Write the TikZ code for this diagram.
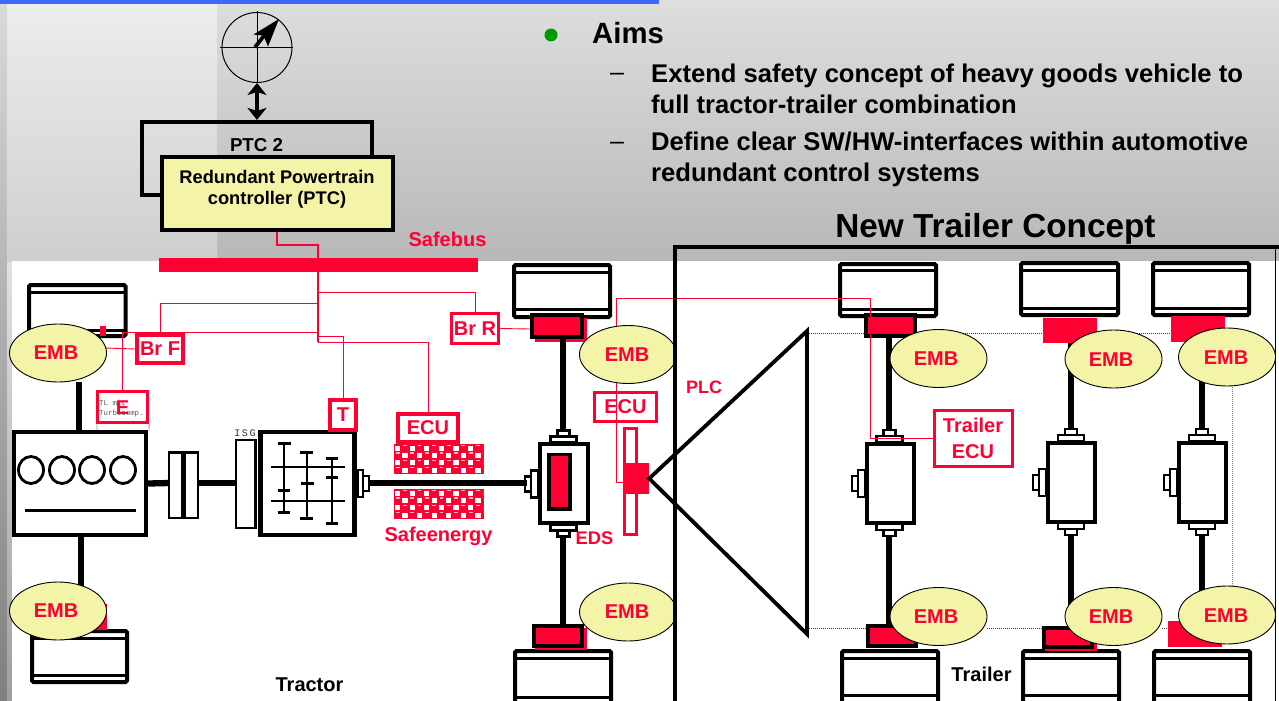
\documentclass[tikz,border=0pt]{standalone}
\usepackage{fontspec}
\setmainfont{Liberation Sans}
\newfontfamily\monof{Liberation Mono}
\usetikzlibrary{arrows.meta,shapes.geometric}
\definecolor{sred}{HTML}{FF0033}
\definecolor{syel}{HTML}{F3F4A8}
\definecolor{blubar}{HTML}{3D69FB}
\newcommand{\fs}[1]{\fontsize{#1}{#1}\selectfont}
\tikzset{
 wheelout/.style={draw=black,line width=4pt,fill=white,rounded corners=1.5pt},
 wheelline/.style={draw=black,line width=3pt},
 pad/.style={draw=black,line width=3.8pt,fill=sred},
 padred/.style={fill=sred},
 axle/.style={draw=black,line width=6.3pt},
 box/.style={draw=black,line width=4pt,fill=white},
 stub/.style={draw=black,line width=2.1pt,fill=white},
 wire/.style={draw=sred,line width=0.9pt},
 redbox/.style={draw=sred,line width=4pt,fill=white,inner sep=0pt,font=\bfseries\fs{20},text=sred,align=center},
 emb/.style={ellipse,draw=black,line width=0.9pt,fill=syel,inner sep=0pt,minimum width=97pt,minimum height=58pt},
 redlab/.style={font=\bfseries\fs{20},text=sred,inner sep=0pt},
 blk/.style={font=\bfseries,text=black,inner sep=0pt,align=center},
 dots/.style={draw=black!80,line width=0.7pt,dash pattern=on 1pt off 1pt},
 gear/.style={draw=black,line width=2.5pt},
 gearcap/.style={draw=black,line width=3pt},
}
\newcommand{\wheelbox}[6]{%x1 y1 x2 y2 line1 line2
 \draw[wheelout] (#1,#2) rectangle (#3,#4);
 \draw[wheelline] (#1,#5) -- (#3,#5);
 \draw[wheelline] (#1,#6) -- (#3,#6);}
\newcommand{\diffbox}[4]{%cx, xleft, xright, ytop (outer)
 \pgfmathsetmacro{\yb}{#4+82}
 \draw[stub] (#1-6,#4-12) rectangle (#1+6,#4-6);
 \draw[stub] (#1-13,#4-6) rectangle (#1+13,#4);
 \draw[stub] (#1-6,\yb+6) rectangle (#1+6,\yb+12);
 \draw[stub] (#1-13,\yb) rectangle (#1+13,\yb+6);
 \draw[stub] (#2-7,#4+28) rectangle (#2,#4+55);
 \draw[stub] (#2-13,#4+34) rectangle (#2-7,#4+49);
 \draw[box] (#2+1.5,#4+1.5) rectangle (#3-1.5,\yb-1.5);}
\newcommand{\safepatch}[2]{%x y top-left
 \fill[sred] (#1,#2) rectangle ++(90,30);
 \begin{scope}
 \clip (#1+1,#2+1) rectangle ++(88,28);
 \foreach \i in {0,...,12}{\foreach \j in {0,...,3}{
  \pgfmathtruncatemacro{\pr}{mod(\i+\j,2)}
  \ifnum\pr=0
   \fill[white] (#1+\i*7.3+1,#2+\j*7.4+1.5) rectangle ++(5.2,5);
  \else
   \fill[white!70!sred] (#1+\i*7.3+1.7,#2+\j*7.4+0.8) rectangle ++(3.8,1.4);
  \fi
 }}
 \end{scope}}
\begin{document}
\begin{tikzpicture}[x=1pt,y=-1pt,line join=miter]
\useasboundingbox (0,0) rectangle (1279,701);
\clip (0,0) rectangle (1279,701);
% backgrounds
\shade[top color=black!15,bottom color=black!50] (0,0) rectangle (7,701);
\shade[top color=black!12,bottom color=black!38] (7,261) rectangle (12,701);
\shade[top color=black!7,bottom color=black!19] (7,0) rectangle (217,261);
\shade[top color=black!13,bottom color=black!28] (217,0) rectangle (1279,261);
\fill[white] (12,261) rectangle (1279,701);
\fill[blubar] (0,0) rectangle (659,4);
% bullet text
\fill[green!60!black] (551,35) circle (6.5);
\node[blk,anchor=base west,font=\bfseries\fs{29.3}] (aims) at (592,44) {Aims};
\node[anchor=base west,font=\fs{25},inner sep=0pt] (d1) at (610,81) {–};
\node[anchor=base west,font=\fs{25},inner sep=0pt] (d2) at (610,149) {–};
\node[blk,anchor=base west,font=\bfseries\fs{25.6}] (t1a) at (651,82) {Extend safety concept of heavy goods vehicle to};
\node[blk,anchor=base west,font=\bfseries\fs{25.6}] (t1b) at (651,113) {full tractor-trailer combination};
\node[blk,anchor=base west,font=\bfseries\fs{25.6}] (t2a) at (651,150) {Define clear SW/HW-interfaces within automotive};
\node[blk,anchor=base west,font=\bfseries\fs{25.6}] (t2b) at (651,181) {redundant control systems};
\node[blk,anchor=base,font=\bfseries\fs{33.3}] (ntc) at (995.5,237) {New Trailer Concept};
% clock
\node[circle,draw=black,line width=1pt,minimum size=70pt,inner sep=0pt] (clk) at (257,47.5) {};
\draw[black,line width=1pt] (257,11) -- (257,82);
\draw[black,line width=1pt] (220,48) -- (293,48);
\fill[black] (279,19) -- (253.5,34.5) -- (262,35.5) -- (253.5,46) -- (256.5,48.5) -- (264.5,38) -- (268,46.5) -- cycle;
% PTC
\node[draw=black,line width=4.2pt,minimum width=230pt,minimum height=73pt,inner sep=0pt] (ptcb) at (257,158.5) {};
\node[blk,anchor=base,font=\bfseries\fs{18.7}] (ptc2) at (256.5,151) {PTC 2};
\node[draw=black,line width=4.4pt,fill=syel,minimum width=231pt,minimum height=73pt,inner sep=0pt] (ptc) at (277.5,193.5) {};
\node[blk,font=\bfseries\fs{18.3}] (ptct) at (277,189.5) {Redundant Powertrain\\[3pt]controller (PTC)};
\draw[line width=3.6pt,{Stealth[length=12pt,width=19pt,inset=3pt]}-{Stealth[length=12pt,width=19pt,inset=3pt]}] (clk.south) -- (ptcb.north);
% bus
\coordinate (ptcs) at (277,232);
\node[fill=sred,minimum width=319pt,minimum height=14pt,inner sep=0pt] (bus) at (318.5,265) {};
\coordinate (b1) at (318,245);
\draw[draw=sred,line width=2.4pt] (ptcs) |- (b1) -- (bus.north -| b1);
\node[redlab,anchor=base] (safebus) at (447.5,246) {Safebus};
% tractor wheels
\wheelbox{29}{285}{125.5}{336}{292}{330}
\wheelbox{32}{631}{127}{682}{638}{675}
\wheelbox{514}{265}{610}{317}{272}{309}
\wheelbox{515}{651}{611}{720}{658}{697}
% trailer wheels
\wheelbox{840}{264}{936}{316}{270}{309}
\wheelbox{1021}{263}{1118}{315}{270}{308}
\wheelbox{1153}{263}{1249}{315}{270}{308}
\wheelbox{842}{651}{938}{720}{658}{695}
\wheelbox{1023}{651}{1119}{720}{658}{695}
\wheelbox{1154}{651}{1250}{720}{658}{695}
% pads
\fill[sred] (100,326) rectangle (106,336);
\fill[sred] (95,604) rectangle (107,630);
\fill[sred] (535,318) rectangle (587,342);
\draw[pad] (532,315) rectangle (582,337);
\fill[sred] (535,628) rectangle (587,650);
\draw[pad] (534,626) rectangle (582,646);
\draw[pad] (866,315) rectangle (915,336);
\fill[padred] (1043,318) rectangle (1097,343);
\fill[padred] (1171,316) rectangle (1225,342);
\draw[pad] (868,626) rectangle (916,646);
\fill[sred] (1045,630) rectangle (1097,651);
\draw[pad] (1044,628) rectangle (1092,647);
\fill[padred] (1168,621) rectangle (1222,647);
% dotted frame
\coordinate (dtl) at (807,333);
\coordinate (dtr) at (1232,333);
\coordinate (dbr) at (1232,628);
\coordinate (dbl) at (807,628);
\draw[dots] (dtl) -- (1042,333);
\draw[dots] (dbl) -- (866,628);
\draw[dots] (1097,333) -- (1171,333);
\draw[dots] (987,628) -- (1042,628);
\draw[dots] (1162,628) -- (1168,628);
\draw[draw=black!50,line width=0.8pt,dash pattern=on 1pt off 1pt] (dtr) -- (dbr);
% axles
\draw[axle] (563,339) -- (563,432);
\draw[axle] (563,536) -- (563,624);
\draw[axle] (889,338) -- (889,432);
\draw[axle] (889,536) -- (889,626);
\draw[axle] (1071,343) -- (1071,432);
\draw[axle] (1071,536) -- (1071,626);
\draw[axle] (1202,342) -- (1202,432);
\draw[axle] (1202,536) -- (1202,622);
\draw[axle] (79,382) -- (79,430);
\draw[axle] (81,537) -- (81,590);
% diffs
\diffbox{563.5}{538}{589}{442.5}
\diffbox{889.5}{865}{915}{442}
\diffbox{1071}{1046}{1096}{441}
\diffbox{1202}{1177}{1227}{441}
\draw[draw=black,line width=3.6pt,fill=sred] (549,454.5) rectangle (570,509);
% engine
\node[draw=black,line width=4.4pt,fill=white,minimum width=132pt,minimum height=103pt,inner sep=0pt] (eng) at (80,483.5) {};
\foreach \cx in {31,62,92,123}{\draw[black,line width=2.8pt] (\cx,470) ellipse (12.5 and 13.5);}
\draw[black,line width=3pt] (25,510) -- (136,510);
% clutch and shaft
\draw[axle] (eng.east) -- (170,483);
\draw[stub] (169,452.5) rectangle (182,518);
\draw[stub] (184.5,452.5) rectangle (198,518);
\draw[axle] (198,483) -- (236,483);
\node[draw=black,line width=2pt,fill=white,minimum width=19pt,minimum height=88pt,inner sep=0pt] (isg) at (245,484) {};
\node[font=\monof\fs{10},text=black!80,anchor=base,inner sep=0pt] (isgl) at (245,436) {I\,S\,G};
\draw[black,line width=3pt] (isg.north east) -- (isg.south east);
\node[draw=black,line width=4.4pt,fill=white,minimum width=94pt,minimum height=103pt,inner sep=0pt] (gbx) at (307.5,483.5) {};
\draw[gear] (284,443) -- (284,512);
\draw[gear] (307,452) -- (307,518);
\draw[gear] (332,458) -- (332,523);
\draw[gear] (271,467) -- (345,467);
\draw[gear] (271,501) -- (345,501);
\foreach \xa/\xb/\yy in {278/291/443,278/290/512,278/290/490,300/313/452,300/313/518,301/314/483,326/338/458,326/338/523,326/338/477}{\draw[gearcap] (\xa,\yy) -- (\xb,\yy);}
\draw[stub] (358,470) rectangle (363,497);
\draw[stub] (363,476) rectangle (369,491);
\draw[axle] (369,483) -- (527,483);
% safe energy
\safepatch{394}{444}
\safepatch{394}{489}
\node[redlab,anchor=base] (safeen) at (438.5,541) {Safeenergy};
\node[redlab,anchor=base,font=\bfseries\fs{18.3}] (eds) at (594.5,544) {EDS};
\node[redlab,anchor=base,font=\bfseries\fs{18}] (plc) at (704,393) {PLC};
% wires
\coordinate (tr0) at (318,272);
\coordinate (tr1) at (318,292);
\coordinate (tr2) at (318,303);
\coordinate (tr3) at (318,332);
\coordinate (tr4) at (318,336);
\coordinate (tr5) at (318,342);
\draw[wire,line width=1.2pt] (tr0) -- (tr5);
% boxes
\node[redbox,minimum width=46pt,minimum height=28pt] (brf) at (160,349) {Br F};
\node[redbox,line width=3.4pt,minimum width=47pt,minimum height=30pt] (brr) at (475,328.5) {Br R};
\node[redbox,line width=3.4pt,minimum width=50pt,minimum height=31pt] (eb) at (122.5,407) {};
\draw[draw=black!40,line width=0.8pt] (97,424) -- (97,430) (eb.south east) -- (149,430);
\node[font=\monof\fs{7.4},text=black!65,align=left,inner sep=0pt,anchor=west] (ebt) at (99,409) {TL mit\\[2.5pt]Turbocomp.};
\node[redlab,anchor=center] (el) at (122.5,408) {E};
\node[redbox,minimum width=26pt,minimum height=30pt] (tb) at (343,415) {T};
\node[redbox,line width=3.6pt,minimum width=60pt,minimum height=28pt] (ecu1) at (428,428) {ECU};
\node[redbox,line width=3pt,minimum width=62pt,minimum height=29pt] (ecu2) at (625.5,407) {ECU};
\node[redbox,line width=3pt,minimum width=78pt,minimum height=56pt] (tecu) at (973,438) {Trailer\\[6pt]ECU};
% PLC
\draw[draw=sred,line width=3pt,fill=white] (624,428) rectangle (636,534);
\node[fill=sred,minimum width=26pt,minimum height=31pt,inner sep=0pt] (plcb) at (636,478.5) {};
\coordinate (trt) at (807,331);
\coordinate (trb) at (807,634);
\draw[draw=black,line width=3.8pt,line join=miter,fill=white] (plcb.east) -- (trt) -- (trb) -- cycle;
% wires to nodes
\draw[wire] (tr1) -| (brr.north);
\draw[wire] (tr2) -| (brf.north);
\draw[wire] (tr3) -| (eb.north);
\draw[wire] (tr4) -| (tb.north);
\draw[wire] (tr5) -| (ecu1.north);
\coordinate (ww) at (616,298);
\coordinate (wp) at (870,298);
\draw[wire] (plcb.west |- 0,482) -| (ww) -- (wp) |- (tecu.west);
\draw[wire] (brr.east) -- (530,329);
\draw[wire] (brf.west) -- (105,348);
% EMB
\node[emb] (e1) at (58,353) {};
\node[emb] (e2) at (58,611) {};
\node[emb] (e3) at (628,354.5) {};
\node[emb] (e4) at (628,612) {};
\node[emb] (e5) at (938.5,358.5) {};
\node[emb] (e6) at (938.5,616.5) {};
\node[emb] (e7) at (1113.5,359) {};
\node[emb] (e8) at (1113.5,616.5) {};
\node[emb] (e9) at (1227,357) {};
\node[emb] (e10) at (1227,615) {};
\foreach \n/\x/\y in {e1/56/353,e2/56/611,e3/627/355,e4/627/612,e5/936/359,e6/936/617,e7/1111/360,e8/1111/617,e9/1226/358,e10/1226/616}{\node[redlab] at (\x,\y) {EMB};}
% frame
\coordinate (fa) at (675,247);
\coordinate (fb) at (675,701);
\coordinate (fc) at (1279,247);
\draw[black,line width=3.4pt] (fb) -- (fa) -- (fc);
\draw[black,line width=1pt] (1275.5,247) -- (1275.5,701);
\fill[white] (1276,261) rectangle (1279,701);
% labels
\node[blk,anchor=base,font=\bfseries\fs{20}] (tractor) at (309.5,691) {Tractor};
\node[blk,anchor=base,font=\bfseries\fs{20}] (trailer) at (981.5,681) {Trailer};
\end{tikzpicture}
\end{document}
